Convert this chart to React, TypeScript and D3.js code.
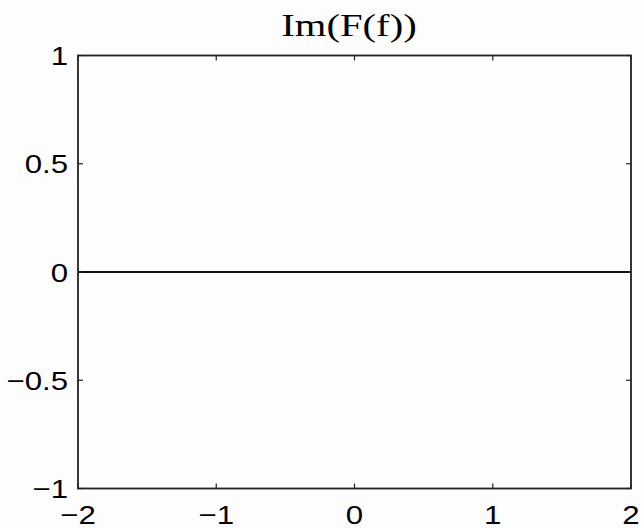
import React from "react";
import * as d3 from "d3";

// Imaginary part of F(f), sampled over the frequency range
const freq = [-2, -1, 0, 1, 2];
const imValues = [0, 0, 0, 0, 0];

const xTicks = [-2, -1, 0, 1, 2];
const yTicks = [-1, -0.5, 0, 0.5, 1];
const title = "Im(F(f))";

const W = 641;
const H = 528;
const left = 78;
const right = 631;
const top = 55.5;
const bottom = 488.5;
const stretch = 1.2;
const tickLen = 5;

const fmt = (v: number) => (v < 0 ? "\u2212" + String(Math.abs(v)) : String(v));

export default function App() {
  const x = d3.scaleLinear().domain([-2, 2]).range([left, right]);
  const y = d3.scaleLinear().domain([-1, 1]).range([bottom, top]);
  const line = d3
    .line<number>()
    .x((_, i) => x(freq[i]))
    .y((d) => y(d));

  const sans = "Liberation Sans, Arial, Helvetica, sans-serif";
  return (
    <svg
      width={W}
      height={H}
      viewBox={`0 0 ${W} ${H}`}
      style={{ position: "absolute", left: 0, top: 0, background: "#fdfdfd" }}
    >
      <rect x={0} y={0} width={W} height={H} fill="#fdfdfd" />
      <rect x={left} y={top} width={right - left} height={bottom - top} fill="#fefefe" />

      {/* data */}
      <path d={line(imValues) || ""} fill="none" stroke="#111" strokeWidth={1.8} />

      {/* ticks on all four sides, pointing inward */}
      {xTicks.map((t) => (
        <g key={"xt" + t}>
          <line x1={x(t)} x2={x(t)} y1={bottom} y2={bottom - tickLen} stroke="#222" strokeWidth={1.2} />
          <line x1={x(t)} x2={x(t)} y1={top} y2={top + tickLen} stroke="#222" strokeWidth={1.2} />
        </g>
      ))}
      {yTicks.map((t) => (
        <g key={"yt" + t}>
          <line x1={left} x2={left + tickLen} y1={y(t)} y2={y(t)} stroke="#222" strokeWidth={1.2} />
          <line x1={right} x2={right - tickLen} y1={y(t)} y2={y(t)} stroke="#222" strokeWidth={1.2} />
        </g>
      ))}

      {/* axes box */}
      <rect
        x={left}
        y={top}
        width={right - left}
        height={bottom - top}
        fill="none"
        stroke="#222"
        strokeWidth={1.8}
      />

      {/* x tick labels */}
      {xTicks.map((t) => (
        <text
          key={"xl" + t}
          transform={`translate(${x(t)},524) scale(${stretch},1)`}
          textAnchor="middle"
          fontFamily={sans}
          fontSize={26}
          fill="#000"
        >
          {fmt(t)}
        </text>
      ))}

      {/* y tick labels */}
      {yTicks.map((t) => (
        <text
          key={"yl" + t}
          transform={`translate(${left - 10},${y(t) + 9.5}) scale(${stretch},1)`}
          textAnchor="end"
          fontFamily={sans}
          fontSize={26}
          fill="#000"
        >
          {fmt(t)}
        </text>
      ))}

      {/* title */}
      <text
        transform={`translate(349,36) scale(1.27,1)`}
        textAnchor="middle"
        fontFamily="Liberation Serif, Times New Roman, serif"
        fontSize={32}
        fill="#000"
      >
        {title}
      </text>
    </svg>
  );
}
